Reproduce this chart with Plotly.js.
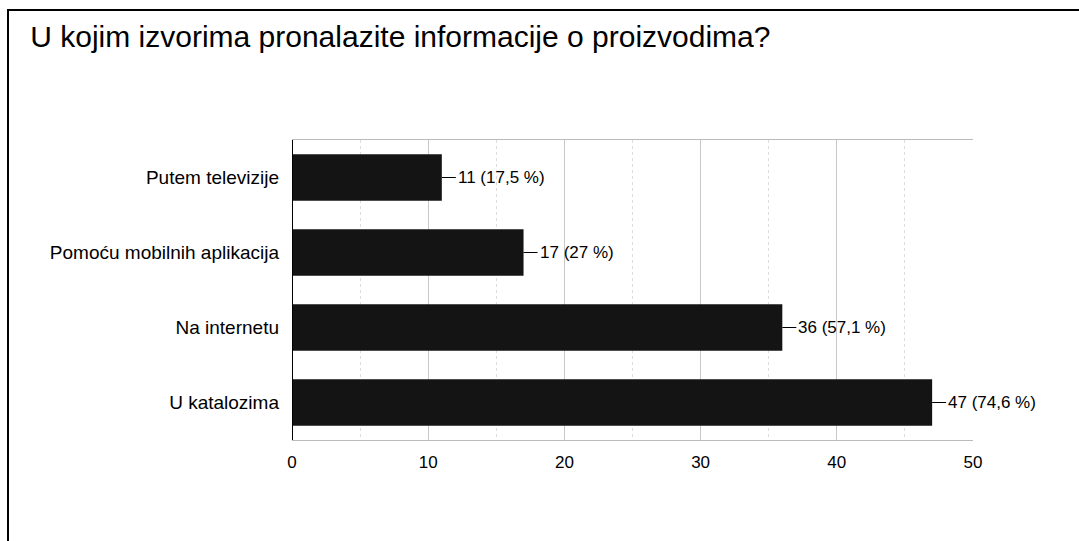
<!DOCTYPE html>
<html><head><meta charset="utf-8">
<script src="https://cdn.plot.ly/plotly-3.0.1.min.js"></script>
<style>
html,body{margin:0;padding:0;background:#fff;}
#wrap{position:relative;width:1079px;height:541px;overflow:hidden;}
#chart{width:1079px;height:541px;}
#frame{position:absolute;left:7px;top:9px;width:1200px;height:600px;border:2px solid #000;pointer-events:none;}
</style></head>
<body><div id="wrap"><div id="chart"></div><div id="frame"></div></div>
<script>
const categories = ["U katalozima", "Na internetu", "Pomoću mobilnih aplikacija", "Putem televizije"];
const counts = [47, 36, 17, 11];
const percents = ["74,6 %", "57,1 %", "27 %", "17,5 %"];
const tickVals = [0, 10, 20, 30, 40, 50];
const titleText = "U kojim izvorima pronalazite informacije o proizvodima?";

const font = "Liberation Sans, Arial, sans-serif";
const annotations = categories.map((c, i) => ({
  x: counts[i], y: c, xref: 'x', yref: 'y',
  text: counts[i] + " (" + percents[i] + ")",
  showarrow: true, arrowhead: 0, arrowwidth: 1, arrowcolor: '#000',
  ax: 14, ay: 0, xanchor: 'left', standoff: 0,
  font: {family: font, size: 17, color: '#000'}
}));

Plotly.newPlot('chart', [{
  type: 'bar', orientation: 'h',
  x: counts, y: categories,
  marker: {color: '#141414', line: {width: 0}},
  hoverinfo: 'none'
}], {
  width: 1079, height: 541,
  margin: {l: 292, r: 106, t: 140, b: 101},
  paper_bgcolor: '#fff', plot_bgcolor: '#fff',
  title: {text: titleText, x: 0.028, xref: 'container', xanchor: 'left', y: 0.932, yref: 'container', yanchor: 'middle',
          font: {family: font, size: 30, color: '#000'}},
  bargap: 0.38,
  showlegend: false,
  xaxis: {range: [0, 50], tickvals: tickVals, ticks: '', showgrid: true, gridcolor: '#c8c8c8', gridwidth: 1,
          minor: {dtick: 5, showgrid: true, gridcolor: '#dddddd', griddash: 'dot'},
          zeroline: false, showline: true, linecolor: '#bbbbbb', mirror: true,
          tickfont: {family: font, size: 17, color: '#000'}, ticklabelstandoff: 7, fixedrange: true},
  yaxis: {showgrid: false, zeroline: false, showline: false, ticks: '',
          tickfont: {family: font, size: 19, color: '#000'}, ticklabelstandoff: 12, fixedrange: true},
  shapes: [{type: 'line', xref: 'x', yref: 'paper', x0: 0, x1: 0, y0: 0, y1: 1, line: {color: '#000', width: 2}}],
  annotations: annotations
}, {displayModeBar: false, staticPlot: true});
</script></body></html>
